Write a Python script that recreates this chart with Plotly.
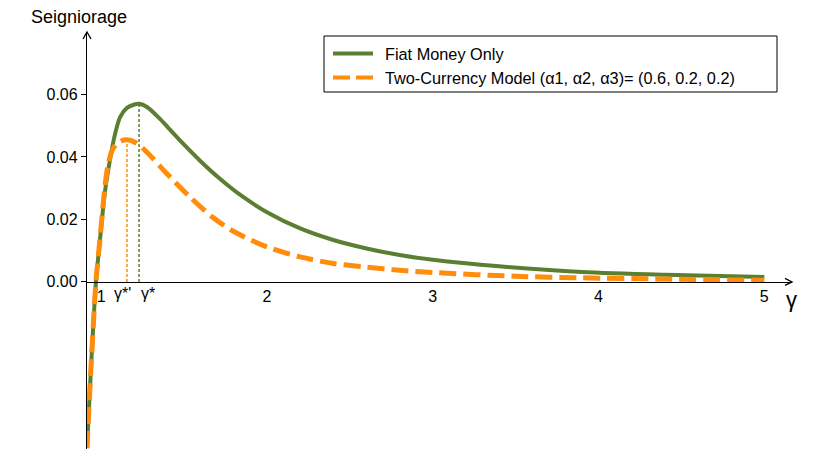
import plotly.graph_objects as go

# Seigniorage as a function of the money growth factor gamma
GAMMA_FIAT = [0.914, 0.938, 0.968, 0.992, 1.022, 1.053, 1.083, 1.113, 1.155, 1.200,
              1.228, 1.276, 1.354, 1.410, 1.475, 1.596, 1.716, 1.837, 2.000, 2.200,
              2.400, 2.600, 2.800, 3.000, 3.400, 3.900, 4.400, 5.000]
SEIG_FIAT = [-0.0532, -0.0275, 0.0000, 0.0133, 0.0287, 0.0392, 0.0473, 0.0527, 0.0557, 0.0568,
             0.0570, 0.0560, 0.0522, 0.0490, 0.0453, 0.0388, 0.0330, 0.0279, 0.0223, 0.0171,
             0.0134, 0.0107, 0.0086, 0.0071, 0.0050, 0.0032, 0.0023, 0.0016]

GAMMA_TWO = [0.914, 0.938, 0.968, 0.992, 1.020, 1.040, 1.065, 1.093, 1.120, 1.155,
             1.203, 1.274, 1.395, 1.535, 1.676, 1.797, 2.000, 2.200, 2.400, 2.600,
             2.800, 3.000, 3.500, 3.900, 4.400, 5.000]
SEIG_TWO = [-0.0532, -0.0275, 0.0000, 0.0135, 0.0295, 0.0372, 0.0420, 0.0442, 0.0451, 0.0455,
            0.0447, 0.0416, 0.0347, 0.0272, 0.0205, 0.0162, 0.0112, 0.0080, 0.0059, 0.0047,
            0.0037, 0.0030, 0.0018, 0.0013, 0.0009, 0.0005]

# Revenue-maximising growth factors and the peak seigniorage they give
GAMMA_STAR = 1.228
PEAK_FIAT = 0.0570
GAMMA_STAR_TWO = 1.155
PEAK_TWO = 0.0455

X_TICKS = [1, 2, 3, 4, 5]
X_TICK_TEXT = ["1", "2", "3", "4", "5"]
Y_TICKS = [0.0, 0.02, 0.04, 0.06]
Y_TICK_TEXT = ["0.00", "0.02", "0.04", "0.06"]

LEGEND_NAMES = ["Fiat Money Only",
                "Two-Currency Model (\u03b11, \u03b12, \u03b13)= (0.6, 0.2, 0.2)"]

X_MIN, X_MAX = 0.914, 5.167
Y_MIN, Y_MAX = -0.0535, 0.080

GREEN = "#5B7F30"
ORANGE = "#FF8C0A"
FONT = "Liberation Sans, Arial, Helvetica, sans-serif"

W, H = 835, 461
ML, MR, MT, MB = 87, 43, 32, 12
PW, PH = W - ML - MR, H - MT - MB


def px_x(p):
    return (p - ML) / PW


def px_y(p):
    return (H - MB - p) / PH


fig = go.Figure()

fig.add_trace(go.Scatter(
    x=GAMMA_FIAT, y=SEIG_FIAT, mode="lines", name=LEGEND_NAMES[0],
    line=dict(color=GREEN, width=4, shape="spline", smoothing=0.8),
    showlegend=False, hoverinfo="skip"))
fig.add_trace(go.Scatter(
    x=GAMMA_TWO, y=SEIG_TWO, mode="lines", name=LEGEND_NAMES[1],
    line=dict(color=ORANGE, width=5, dash="17px,7px", shape="spline", smoothing=0.8),
    showlegend=False, hoverinfo="skip"))

# dotted guides from the axis up to each maximum
fig.add_trace(go.Scatter(
    x=[GAMMA_STAR_TWO, GAMMA_STAR_TWO], y=[0, PEAK_TWO], mode="lines",
    line=dict(color=ORANGE, width=1.5, dash="3px,2px"), showlegend=False, hoverinfo="skip"))
fig.add_trace(go.Scatter(
    x=[GAMMA_STAR, GAMMA_STAR], y=[0, PEAK_FIAT], mode="lines",
    line=dict(color=GREEN, width=1.5, dash="3px,2px"), showlegend=False, hoverinfo="skip"))

shapes = [
    # arrow heads at the ends of the axes
    dict(type="path", xref="paper", yref="paper", xsizemode="pixel", ysizemode="pixel",
         xanchor=0, yanchor=1, path="M -4,-7 L 0,0 L 4,-7",
         line=dict(color="black", width=1.3)),
    dict(type="path", xref="paper", yref="y", xsizemode="pixel", ysizemode="pixel",
         xanchor=1, yanchor=0, path="M -7,3.5 L 0,0 L -7,-3.5",
         line=dict(color="black", width=1.3)),
    # legend frame and keys
    dict(type="rect", xref="paper", yref="paper",
         x0=px_x(324), x1=px_x(777), y0=px_y(36), y1=px_y(92),
         line=dict(color="black", width=1), fillcolor="white", layer="below"),
    dict(type="line", xref="paper", yref="paper",
         x0=px_x(333), x1=px_x(373), y0=px_y(53.5), y1=px_y(53.5),
         line=dict(color=GREEN, width=4)),
    dict(type="line", xref="paper", yref="paper",
         x0=px_x(333), x1=px_x(373), y0=px_y(77.5), y1=px_y(77.5),
         line=dict(color=ORANGE, width=4, dash="17px,6px")),
]

annotations = [
    dict(text="Seigniorage", xref="paper", yref="paper", x=px_x(79), y=px_y(17),
         xanchor="center", yanchor="middle", showarrow=False,
         font=dict(family=FONT, size=18, color="black")),
    dict(text="\u03b3", xref="paper", yref="y", x=1, y=0, xshift=-1, yshift=-18,
         xanchor="center", yanchor="middle", showarrow=False,
         font=dict(family=FONT, size=22, color="black")),
    dict(text="\u03b3*'", xref="x", yref="y", x=GAMMA_STAR_TWO, y=0, xshift=-4, yshift=-12,
         xanchor="center", yanchor="middle", showarrow=False,
         font=dict(family=FONT, size=16, color="black")),
    dict(text="\u03b3*", xref="x", yref="y", x=GAMMA_STAR, y=0, xshift=9, yshift=-12,
         xanchor="center", yanchor="middle", showarrow=False,
         font=dict(family=FONT, size=16, color="black")),
    dict(text=LEGEND_NAMES[0], xref="paper", yref="paper", x=px_x(383), y=px_y(54),
         xanchor="left", yanchor="middle", showarrow=False,
         font=dict(family=FONT, size=16.3, color="black")),
    dict(text=LEGEND_NAMES[1], xref="paper", yref="paper", x=px_x(383), y=px_y(78.5),
         xanchor="left", yanchor="middle", showarrow=False,
         font=dict(family=FONT, size=16.3, color="black")),
]

fig.update_layout(
    width=W, height=H,
    margin=dict(l=ML, r=MR, t=MT, b=MB, pad=0),
    paper_bgcolor="white", plot_bgcolor="white",
    font=dict(family=FONT, size=16, color="black"),
    shapes=shapes, annotations=annotations,
    xaxis=dict(range=[X_MIN, X_MAX], anchor="free",
               position=(0 - Y_MIN) / (Y_MAX - Y_MIN),
               showline=True, linecolor="black", linewidth=1.3,
               tickvals=X_TICKS, ticktext=X_TICK_TEXT, ticks="",
               showgrid=False, zeroline=False,
               tickfont=dict(family=FONT, size=16, color="black")),
    yaxis=dict(range=[Y_MIN, Y_MAX], showline=True, linecolor="black", linewidth=1.3,
               tickvals=Y_TICKS, ticktext=Y_TICK_TEXT, ticks="outside", ticklen=5,
               tickcolor="black", tickwidth=1.3,
               showgrid=False, zeroline=False,
               tickfont=dict(family=FONT, size=16, color="black")),
)

fig.write_html("out.html")
